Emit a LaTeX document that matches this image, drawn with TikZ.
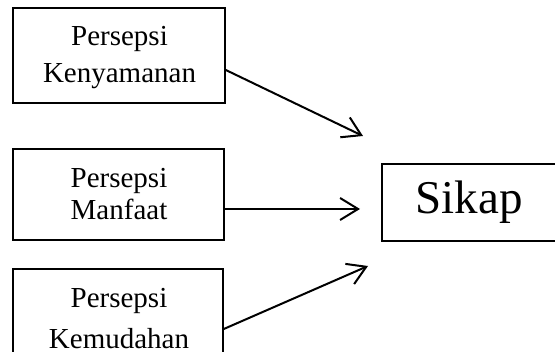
\documentclass[tikz,border=0pt]{standalone}
\usepackage{fontspec}
\setmainfont{Liberation Serif}
\usetikzlibrary{arrows.meta}
\begin{document}
\begin{tikzpicture}[x=1pt,y=-1pt,
  inbox/.style={draw, line width=1.6pt, inner sep=0pt},
  intext/.style={inner sep=0pt, anchor=base, font=\fontsize{29}{34}\selectfont},
  outbox/.style={draw, line width=1.3pt, inner sep=0pt},
  conn/.style={line width=2pt, -{Straight Barb[length=18pt,width=22pt,line width=2pt]}}]
\useasboundingbox (0,0) rectangle (555,352);
\clip (0,0) rectangle (555,352);
\node[inbox, minimum width=212pt, minimum height=95pt] (k) at (119,55.5) {};
\node[inbox, minimum width=211pt, minimum height=91pt] (m) at (118.5,194.5) {};
\node[inbox, minimum width=210pt, minimum height=95pt] (d) at (118,316.5) {};
\node[intext] (k1) at (119.5,46) {Persepsi};
\node[intext] (k2) at (119.5,83) {Kenyamanan};
\node[intext] (m1) at (119,187.5) {Persepsi};
\node[intext] (m2) at (119,220) {Manfaat};
\node[intext] (d1) at (119,308) {Persepsi};
\node[intext] (d2) at (119,349) {Kemudahan};
\node[outbox, minimum width=350pt, minimum height=77pt] (s) at (557,202.5) {};
\node[font=\fontsize{47}{50}\selectfont, inner sep=0pt] (st) at (469,202.5) {Sikap};
\coordinate (t1) at (363,136);
\coordinate (t2) at (360,209);
\coordinate (t3) at (368,266);
\draw[conn] ([yshift=-14.5pt]k.east) -- (t1);
\draw[conn] ([yshift=-14.5pt]m.east) -- (t2);
\draw[conn] ([yshift=-12.5pt]d.east) -- (t3);
\end{tikzpicture}
\end{document}
